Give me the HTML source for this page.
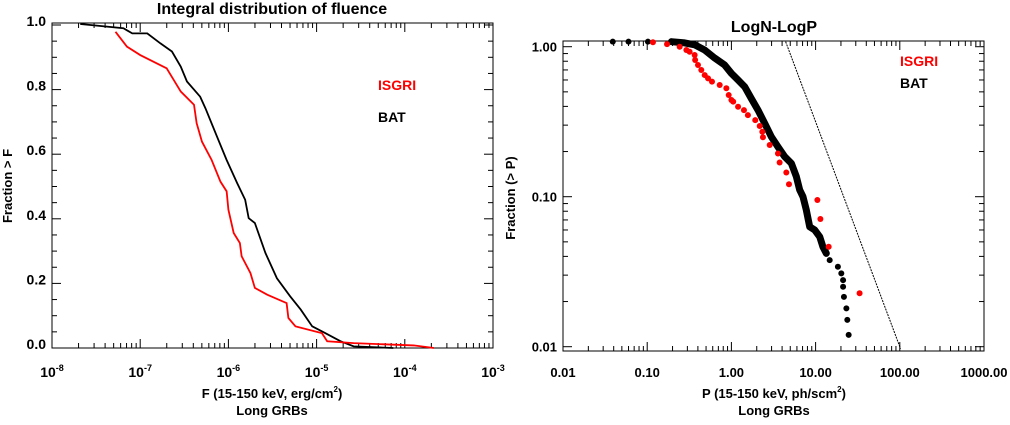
<!DOCTYPE html>
<html><head><meta charset="utf-8"><style>
body{margin:0;background:#fff;width:1010px;height:420px;overflow:hidden}
svg{font-family:"Liberation Sans",sans-serif;font-weight:bold}
</style></head><body>
<svg id="s" width="1010" height="420" viewBox="0 0 1010 420" xmlns="http://www.w3.org/2000/svg"></svg>
<script>
// Left chart data: log10(F) and fraction > F
const batLogF=[-7.68,-7.19,-7.09,-6.92,-6.77,-6.64,-6.54,-6.47,-6.32,-6.26,-6.13,-6.02,-5.90,-5.81,-5.77,-5.70,-5.58,-5.45,-5.30,-5.18,-5.05,-4.90,-4.73,-4.58,-4.13];
const batFrac=[1.003,0.990,0.974,0.974,0.943,0.918,0.871,0.825,0.778,0.742,0.655,0.582,0.510,0.459,0.402,0.387,0.294,0.216,0.160,0.119,0.067,0.046,0.021,0.005,0.0];
const isgLogF=[-7.28,-7.15,-7.0,-6.70,-6.62,-6.54,-6.39,-6.36,-6.30,-6.19,-6.09,-6.02,-6.00,-5.94,-5.87,-5.85,-5.75,-5.70,-5.56,-5.34,-5.32,-5.24,-4.94,-4.88,-4.58,-3.90,-3.67];
const isgFrac=[0.979,0.933,0.907,0.866,0.830,0.794,0.753,0.696,0.639,0.582,0.515,0.485,0.428,0.356,0.325,0.284,0.232,0.186,0.165,0.139,0.093,0.067,0.046,0.021,0.015,0.008,0.0];
const leftXTicks=["-8","-7","-6","-5","-4","-3"];
const leftYTicks=["0.0","0.2","0.4","0.6","0.8","1.0"];
// Right chart data: peak flux P and fraction > P
const batP=[0.039,0.060,0.102,0.194,0.279,0.366,0.482,0.633,0.832,1.00,1.20,1.44,1.73,2.07,2.49,2.98,3.57,4.29,5.15,5.91,6.47,7.08,7.76,8.51,9.75,11.2,12.2,13.4,14.7,18.4,20.2,21.2,21.2,21.7,23.2,23.8,24.7];
const batPF=[1.08,1.08,1.08,1.08,1.06,1.03,0.95,0.84,0.755,0.664,0.60,0.54,0.45,0.378,0.308,0.251,0.215,0.185,0.167,0.136,0.111,0.100,0.0815,0.063,0.060,0.054,0.0464,0.0419,0.0378,0.0341,0.0308,0.0278,0.0251,0.0215,0.018,0.0151,0.0120];
const isgP=[0.117,0.172,0.243,0.292,0.319,0.366,0.371,0.401,0.439,0.482,0.528,0.588,0.726,0.871,0.929,1.0,1.05,1.20,1.41,1.57,1.92,2.17,2.33,2.37,2.85,3.57,3.74,4.49,4.83,10.5,11.4,14.3,33.3];
const isgPF=[1.07,1.04,1.0,0.95,0.926,0.88,0.815,0.755,0.699,0.647,0.615,0.585,0.555,0.528,0.476,0.441,0.43,0.398,0.378,0.35,0.324,0.296,0.271,0.249,0.221,0.194,0.169,0.145,0.121,0.095,0.071,0.0464,0.0227];
const rightXTicks=["0.01","0.10","1.00","10.00","100.00","1000.00"];
const rightYTicks=["0.01","0.10","1.00"];
const refSlope=-1.5, refP0=4.64;

const S=document.getElementById('s'),NS='http://www.w3.org/2000/svg';
function mk(t,a,txt){const e=document.createElementNS(NS,t);for(const k in a)e.setAttribute(k,a[k]);if(txt!==undefined)e.textContent=txt;S.appendChild(e);return e;}

// ---------- LEFT ----------
const L={x0:52,x1:493,y0:348,y1:25};
const lx=v=>L.x0+(v+8)/5*(L.x1-L.x0);
const ly=f=>L.y0-f*(L.y0-L.y1);
let e=mk('rect',{x:L.x0,y:23,width:L.x1-L.x0,height:L.y0-23,fill:'none',stroke:'#000','stroke-width':1});

for(let d=-8;d<-3;d++){for(let m=1;m<10;m++){const x=lx(d+Math.log10(m));const len=m==1?9:5;
 mk('line',{x1:x,x2:x,y1:L.y0,y2:L.y0-len,stroke:'#000'});mk('line',{x1:x,x2:x,y1:23,y2:23+len,stroke:'#000'});}}
leftXTicks.forEach((t,i)=>{const x=lx(+t);
 const g=mk('text',{x:x,y:377,'font-size':14,'text-anchor':'middle'});
 
 g.innerHTML='10<tspan dy="-6" font-size="9">'+t+'</tspan>';});
for(let k=0;k<=20;k++){const y=ly(k*0.05);const len=k%4==0?9:5;
 mk('line',{x1:L.x0,x2:L.x0+len,y1:y,y2:y,stroke:'#000'});mk('line',{x1:L.x1,x2:L.x1-len,y1:y,y2:y,stroke:'#000'});}
leftYTicks.forEach(t=>{const g=mk('text',{x:46,y:ly(+t)+1,'font-size':14,'text-anchor':'end'},t);
 });
e=mk('text',{x:272,y:14,'font-size':16,'text-anchor':'middle'},'Integral distribution of fluence');

e=mk('text',{x:272,y:398,'font-size':13,'text-anchor':'middle'});
e.innerHTML='F (15-150 keV, erg/cm<tspan dy="-6" font-size="8">2</tspan><tspan dy="6">)</tspan>';

e=mk('text',{x:272,y:415,'font-size':13,'text-anchor':'middle'},'Long GRBs');

e=mk('text',{x:12,y:186,'font-size':13,'text-anchor':'middle',transform:'rotate(-90 12 186)'},'Fraction > F');

e=mk('polyline',{points:batLogF.map((v,i)=>lx(v)+','+ly(batFrac[i])).join(' '),fill:'none',stroke:'#000','stroke-width':1.8});

e=mk('polyline',{points:isgLogF.map((v,i)=>lx(v)+','+ly(isgFrac[i])).join(' '),fill:'none',stroke:'#f00','stroke-width':1.8});

e=mk('text',{x:378,y:90,'font-size':14,fill:'#f00'},'ISGRI');

e=mk('text',{x:378,y:122,'font-size':14,fill:'#000'},'BAT');


// ---------- RIGHT ----------
const R={x0:563,x1:984,yt:41,yb:351};
const rx=p=>R.x0+(Math.log10(p)+2)/5*(R.x1-R.x0);
const ry=f=>46.7-Math.log10(f)*150;
e=mk('rect',{x:R.x0,y:R.yt,width:R.x1-R.x0,height:R.yb-R.yt,fill:'none',stroke:'#000'});

for(let d=-2;d<3;d++){for(let m=1;m<10;m++){const x=rx(Math.pow(10,d)*m);const len=m==1?9:5;
 mk('line',{x1:x,x2:x,y1:R.yb,y2:R.yb-len,stroke:'#000'});mk('line',{x1:x,x2:x,y1:R.yt,y2:R.yt+len,stroke:'#000'});}}
for(let d=-2;d<1;d++){for(let m=1;m<10;m++){const v=Math.pow(10,d)*m;const y=ry(v);if(y<R.yt||y>R.yb)continue;const len=m==1?9:5;
 mk('line',{x1:R.x0,x2:R.x0+len,y1:y,y2:y,stroke:'#000'});mk('line',{x1:R.x1,x2:R.x1-len,y1:y,y2:y,stroke:'#000'});}}
rightXTicks.forEach(t=>{const g=mk('text',{x:rx(+t),y:377,'font-size':13,'text-anchor':'middle'},t);
 });
rightYTicks.forEach(t=>{const g=mk('text',{x:557,y:ry(+t)+5,'font-size':13,'text-anchor':'end'},t);
 });
e=mk('text',{x:774,y:32,'font-size':16,'text-anchor':'middle'},'LogN-LogP');

e=mk('text',{x:774,y:398,'font-size':13,'text-anchor':'middle'});
e.innerHTML='P (15-150 keV, ph/scm<tspan dy="-6" font-size="8">2</tspan><tspan dy="6">)</tspan>';

e=mk('text',{x:774,y:415,'font-size':13,'text-anchor':'middle'},'Long GRBs');

e=mk('text',{x:515,y:198,'font-size':13,'text-anchor':'middle',transform:'rotate(-90 515 198)'},'Fraction (> P)');

// reference power-law line
{const pa=refP0*Math.pow(1.08,1/refSlope),pb=refP0*Math.pow(0.0097,1/refSlope);
 e=mk('line',{x1:rx(pa),y1:ry(Math.pow(pa/refP0,refSlope)),x2:rx(pb),y2:ry(Math.pow(pb/refP0,refSlope)),stroke:'#000','stroke-width':1,'stroke-dasharray':'2,1'});
 }
// dense BAT band
{const pts=[];batP.forEach((p,i)=>{if(p>=0.19&&p<=13.5)pts.push(rx(p)+','+ry(batPF[i]));});
 e=mk('polyline',{points:pts.join(' '),fill:'none',stroke:'#000','stroke-width':7,'stroke-linejoin':'round','stroke-linecap':'round'});
 }
batP.forEach((p,i)=>{const c=mk('circle',{cx:rx(p),cy:ry(batPF[i]),r:3,fill:'#000'});
 });
isgP.forEach((p,i)=>{const c=mk('circle',{cx:rx(p),cy:ry(isgPF[i]),r:3,fill:'#f00'});
 });
e=mk('text',{x:900,y:66,'font-size':14,fill:'#f00'},'ISGRI');

e=mk('text',{x:900,y:88,'font-size':14,fill:'#000'},'BAT');

</script>
</body></html>
